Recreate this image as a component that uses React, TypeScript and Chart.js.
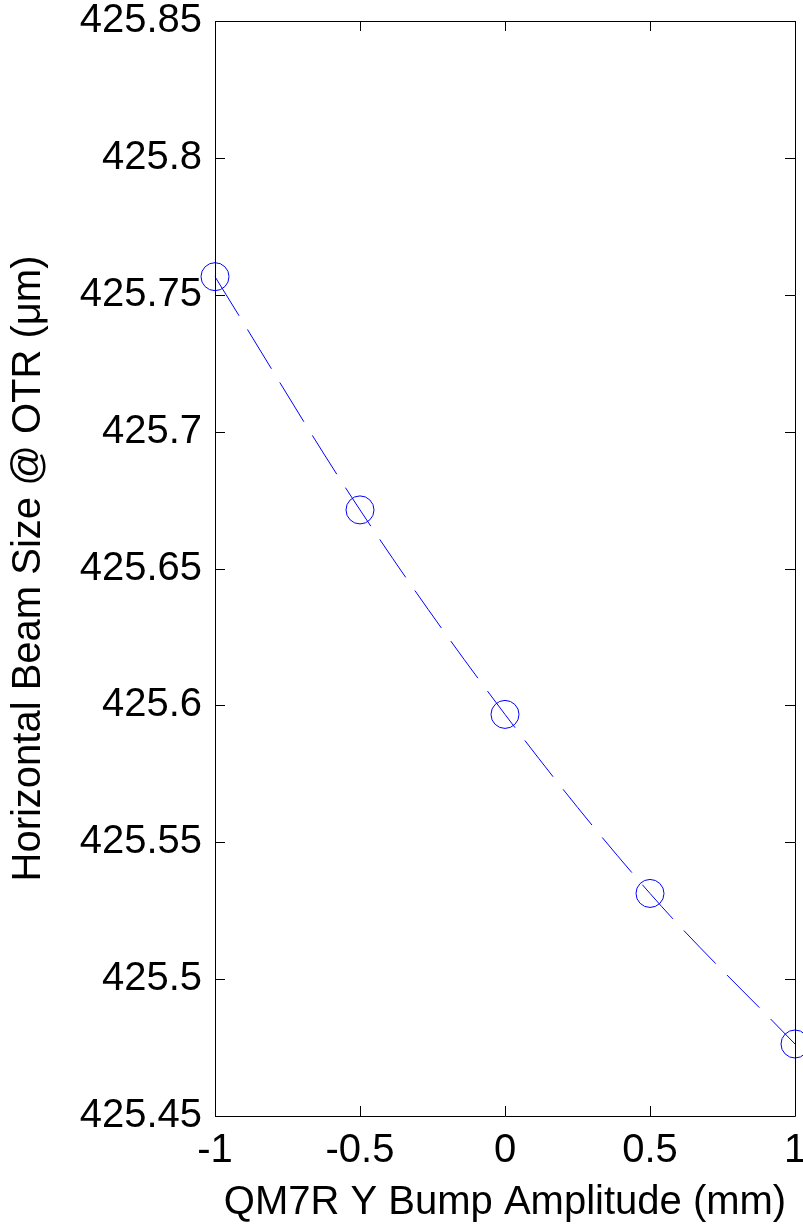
import React, { useEffect, useRef } from "react";
import { Chart, registerables } from "chart.js";

Chart.register(...registerables);

const xValues = [-1, -0.5, 0, 0.5, 1];
const yValues = [425.7566, 425.6714, 425.5967, 425.5313, 425.4763];

const xTickValues = [-1, -0.5, 0, 0.5, 1];
const xTickLabels = ["-1", "-0.5", "0", "0.5", "1"];
const yTickValues = [425.45, 425.5, 425.55, 425.6, 425.65, 425.7, 425.75, 425.8, 425.85];
const yTickLabels = ["425.45", "425.5", "425.55", "425.6", "425.65", "425.7", "425.75", "425.8", "425.85"];

const xTitle = "QM7R Y Bump Amplitude (mm)";
const yTitle = "Horizontal Beam Size @ OTR (\u03bcm)";

const FONT = "'Liberation Sans', Arial, Helvetica, sans-serif";
const W = 803;
const H = 1227;
const PLOT_LEFT = 215;
const PLOT_RIGHT = 795;
const PLOT_TOP = 21;
const PLOT_BOTTOM = 1116;

const zeroPad = () => ({ left: 0, top: 0, right: 0, bottom: 0 });

const boxPlugin = {
  id: "matlabBox",
  afterDraw(chart: any) {
    const { ctx, chartArea, scales } = chart;
    const { left, right, top, bottom } = chartArea;
    ctx.save();
    ctx.strokeStyle = "#000";
    ctx.lineWidth = 1;
    ctx.beginPath();
    ctx.rect(left + 0.5, top + 0.5, right - left, bottom - top);
    ctx.stroke();
    const tick = 10;
    ctx.beginPath();
    for (const v of xTickValues) {
      const px = Math.round(scales.x.getPixelForValue(v)) + 0.5;
      ctx.moveTo(px, bottom);
      ctx.lineTo(px, bottom - tick);
      ctx.moveTo(px, top);
      ctx.lineTo(px, top + tick);
    }
    for (const v of yTickValues) {
      const py = Math.round(scales.y.getPixelForValue(v)) + 0.5;
      ctx.moveTo(left, py);
      ctx.lineTo(left + tick, py);
      ctx.moveTo(right, py);
      ctx.lineTo(right - tick, py);
    }
    ctx.stroke();
    ctx.restore();
  },
};

export default function App() {
  const canvasRef = useRef<HTMLCanvasElement | null>(null);

  useEffect(() => {
    const canvas = canvasRef.current;
    if (!canvas) return;
    const linePts = xValues.map((x, i) => ({ x, y: yValues[i] }));
    const chart = new Chart(canvas, {
      type: "scatter",
      data: {
        datasets: [
          {
            type: "line",
            data: linePts,
            borderColor: "#0000ff",
            borderWidth: 1,
            borderDash: [46, 16],
            pointRadius: 0,
            fill: false,
            cubicInterpolationMode: "monotone",
            clip: false,
          } as any,
          {
            type: "scatter",
            data: linePts,
            borderColor: "#0000ff",
            backgroundColor: "rgba(0,0,0,0)",
            borderWidth: 1,
            pointRadius: 14,
            pointStyle: "circle",
            showLine: false,
            clip: false,
          } as any,
        ],
      },
      options: {
        animation: false,
        responsive: false,
        devicePixelRatio: 1,
        events: [],
        layout: {
          autoPadding: false,
          padding: { left: 0, top: PLOT_TOP, right: W - PLOT_RIGHT, bottom: 0 },
        },
        plugins: {
          legend: { display: false },
          tooltip: { enabled: false },
        },
        scales: {
          x: {
            type: "linear",
            min: -1,
            max: 1,
            grid: { display: false, drawTicks: false },
            border: { display: false },
            afterBuildTicks: (scale: any) => {
              scale.ticks = xTickValues.map((v) => ({ value: v }));
            },
            afterFit: (scale: any) => {
              scale.height = H - PLOT_BOTTOM;
              scale.paddingLeft = 0;
              scale.paddingRight = 0;
              scale.getPadding = zeroPad;
            },
            ticks: {
              color: "#000",
              padding: 11,
              maxRotation: 0,
              autoSkip: false,
              font: { family: FONT, size: 40 },
              callback: (v: any) => {
                const i = xTickValues.indexOf(Number(v));
                return i >= 0 ? xTickLabels[i] : "";
              },
            },
            title: {
              display: true,
              text: xTitle,
              color: "#000",
              font: { family: FONT, size: 40, lineHeight: 1.2 },
              padding: { top: 0, bottom: 0 },
            },
          },
          y: {
            type: "linear",
            min: 425.45,
            max: 425.85,
            grid: { display: false, drawTicks: false },
            border: { display: false },
            afterBuildTicks: (scale: any) => {
              scale.ticks = yTickValues.map((v) => ({ value: v }));
            },
            afterFit: (scale: any) => {
              scale.width = PLOT_LEFT;
              scale.paddingTop = 0;
              scale.paddingBottom = 0;
              scale.getPadding = zeroPad;
            },
            ticks: {
              color: "#000",
              padding: 13,
              autoSkip: false,
              font: { family: FONT, size: 40 },
              callback: (v: any) => {
                const i = yTickValues.findIndex((t) => Math.abs(t - Number(v)) < 1e-9);
                return i >= 0 ? yTickLabels[i] : "";
              },
            },
            title: {
              display: true,
              text: yTitle,
              color: "#000",
              font: { family: FONT, size: 40, lineHeight: 1.2 },
              padding: { top: 5, bottom: 0 },
            },
          },
        },
      },
      plugins: [boxPlugin],
    } as any);
    return () => chart.destroy();
  }, []);

  return (
    <div style={{ position: "fixed", left: 0, top: 0, width: W, height: H, background: "#fff" }}>
      <canvas ref={canvasRef} width={W} height={H} style={{ width: W, height: H, display: "block" }} />
    </div>
  );
}
